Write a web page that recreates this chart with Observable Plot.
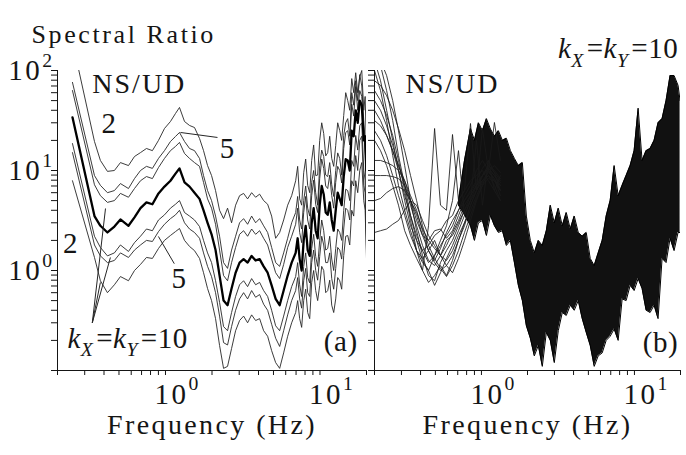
<!DOCTYPE html>
<html><head><meta charset="utf-8">
<script src="https://cdn.jsdelivr.net/npm/d3@7"></script>
<script src="https://cdn.jsdelivr.net/npm/@observablehq/plot@0.6"></script>
<style>
body{margin:0;background:#fff;}
#wrap{position:relative;width:686px;height:455px;overflow:hidden;background:#fff;}
#wrap svg{position:absolute;top:0;}
#wrap svg text, #wrap svg tspan{font-family:"Liberation Serif","Times New Roman",serif !important;}
</style></head><body><div id="wrap"></div>
<script>
// ---------- axis ticks ----------
const xTicks = [0.2,0.3,0.4,0.5,0.6,0.7,0.8,0.9,1,2,3,4,5,6,7,8,9,10,20];
const yTicks = [0.1,0.2,0.3,0.4,0.5,0.6,0.7,0.8,0.9,1,2,3,4,5,6,7,8,9,10,20,30,40,50,60,70,80,90,100];
const xDecades = [1, 10];
const yDecades = [1, 10, 100];

// ---------- panel (a): frequency grid and 7 curves ----------
const freqA = [0.25,0.347,0.379,0.421,0.467,0.511,0.576,0.63,0.689,0.753,0.823,0.901,0.985,1.077,1.161,1.232,1.328,1.431,1.541,1.661,1.763,1.872,1.987,2.109,2.239,2.376,2.522,2.677,2.843,3.017,3.203,3.4,3.61,3.831,4.067,4.317,4.583,4.864,5.164,5.482,5.818,6.177,6.556,6.959,7.387,7.843,8.324,8.836,9.378,9.956,10.57,11.22,11.91,12.64,13.42,14.24,15.12,16.05,17.03,18.09,19.2,20];
const upper2 = [195,19.5,12.6,9.8,10,12,11.2,13.8,15.1,16.6,15.8,20,26.3,30.9,37.2,42.7,30.9,28.2,26.9,20.9,15.8,11.2,8.9,6.3,4.0,3.3,4.2,3.0,4.5,5.6,5.9,5.2,6.0,5.4,5.8,5.0,4.6,3.5,2.1,2.4,3.2,4.5,5.6,7.9,5.2,9.5,7.1,12.6,8.9,20,23.4,15.1,13.2,17.8,25.1,35.5,50,83,95,87,40,15.8];
const upper5 = [76,8.9,7.1,6.0,6.3,7.4,6.6,8.3,10,11,10.5,13.2,15.8,19.5,21.9,24,19.5,16.6,15.8,13.2,8.9,6.3,5.0,3.5,2.2,1.2,1.05,1.6,2.2,3.0,3.3,2.9,3.5,3.0,3.3,2.8,2.4,1.7,1.2,1.1,1.5,2.1,3.0,3.8,3.2,5.0,4.2,7.6,6.0,11.2,13.8,8.7,7.2,10,13.2,22.4,33,60,79,91,31.6,6.3];
const upper10 = [63,7.2,5.6,4.8,5.0,5.9,5.4,6.6,7.9,8.7,8.3,10.7,13.2,15.8,17.4,19.1,14.8,13.2,12,11,7.6,5.2,4.2,2.9,1.6,0.89,0.79,1.2,1.7,2.3,2.5,2.2,2.6,2.3,2.5,2.1,1.8,1.3,0.95,0.83,1.15,1.7,2.2,2.9,2.4,3.8,3.2,5.6,4.6,8.3,10.5,6.6,5.6,7.6,10,16.6,25,46,69,63,25,5.0];
const median = [34,3.5,2.8,2.4,2.75,3.24,2.8,3.4,4.2,4.8,4.6,5.9,6.9,7.9,9.3,10.5,7.6,6.9,6.0,5.2,4.0,3.0,2.3,1.6,0.89,0.5,0.45,0.66,0.95,1.2,1.3,1.2,1.4,1.26,1.3,1.1,0.95,0.71,0.52,0.45,0.63,0.89,1.2,1.5,1.3,2.0,1.6,3.0,2.5,4.5,5.8,3.6,3.2,4.0,5.2,8.7,12.6,25,40,50,20,10];
const lower10 = [18.6,2.2,1.7,1.4,1.5,1.8,1.55,1.9,2.2,2.6,2.5,3.2,3.6,4.2,4.6,5.0,3.8,3.5,3.2,2.75,2.0,1.5,1.2,0.79,0.48,0.275,0.25,0.38,0.55,0.72,0.79,0.69,0.83,0.72,0.76,0.63,0.55,0.4,0.28,0.25,0.35,0.5,0.69,0.87,0.72,1.1,0.85,1.66,1.38,2.0,2.5,1.66,1.3,1.66,2.4,4.0,6.3,12.6,22.4,28,10,2.2];
const lower5 = [15.1,1.8,1.4,1.2,1.26,1.5,1.35,1.6,1.8,2.0,1.95,2.45,2.9,3.3,3.6,4.0,3.0,2.6,2.4,2.1,1.5,1.1,0.87,0.6,0.35,0.19,0.18,0.275,0.4,0.52,0.6,0.52,0.63,0.54,0.575,0.46,0.4,0.29,0.21,0.174,0.25,0.36,0.5,0.63,0.52,0.79,0.6,1.2,1.0,1.38,1.8,1.2,0.83,1.05,1.6,2.6,4.0,7.9,14.1,20,7.1,1.6];
const lower2 = [7.9,1.35,0.79,0.6,0.72,0.87,0.79,1.0,1.15,1.35,1.32,1.66,2.0,2.24,2.45,2.63,2.0,1.74,1.58,1.32,0.95,0.66,0.5,0.33,0.178,0.105,0.11,0.166,0.25,0.316,0.35,0.3,0.36,0.316,0.33,0.25,0.22,0.158,0.12,0.105,0.15,0.22,0.3,0.38,0.33,0.5,0.38,0.76,0.63,0.71,1.0,0.63,0.45,0.52,0.79,1.41,2.24,4.0,7.9,10,5.0,1.32];

// extra in-between readings of the noisy 7-20 Hz part (panel a)
const freqAFine = [7.17,7.61,8.08,8.58,9.10,9.66,10.26,10.89,11.56,12.27,13.02,13.82,14.67,15.58,16.53,17.55,18.64,19.6];
const upper2Fine = [11,4.5,13,6,18,9,30,14,22,11,30,20,60,40,60,60,100,55];
const upper5Fine = [5.5,2.6,7,3.5,10,4.5,16,9,12,5.5,15,9,30,22,45,50,70,20];
const upper10Fine = [4.2,1.9,5.5,2.6,8,3.8,13,7,9,4.2,11,7.5,24,18,35,40,55,14];
const medianFine = [2.1,1.0,2.8,1.4,4.2,2.1,7,3.8,4.8,2.5,6,4.5,13,10,22,30,45,22];
const lower10Fine = [1.2,0.55,1.5,0.75,2.3,1.1,3.2,1.6,2.2,1.0,2.6,2.0,6.5,5,11,16,30,8];
const lower5Fine = [0.85,0.42,1.05,0.55,1.6,0.8,2.2,1.2,1.5,0.65,1.7,1.3,4.2,3.2,7,10,22,6];
const lower2Fine = [0.5,0.27,0.65,0.33,1.0,0.5,1.1,0.6,0.8,0.38,0.85,0.65,2.2,1.8,3.5,6,12,4];

// leader lines of panel (a) (label -> curve)
const leaders = [
  {x1:1.25,y1:24,x2:2.17,y2:21.4},
  {x1:0.90,y1:2.19,x2:1.14,y2:1.17},
  {x1:0.336,y1:0.30,x2:0.409,y2:4.17},
  {x1:0.336,y1:0.30,x2:0.44,y2:1.35},
  {x1:0.336,y1:0.30,x2:0.379,y2:0.76}
];

// ---------- panel (b): individual low-frequency records ----------
const freqB = [0.2,0.219,0.24,0.263,0.287,0.315,0.344,0.377,0.412,0.451,0.494,0.54,0.591,0.647,0.708,0.775,0.848,0.928,1.015,1.111,1.216,1.33];
const rec1 = [126,79,40,20,10,5.0,2.8,2.0,1.58,1.78,2.24,2.5,3.16,3.55,5.0,6.3,7.9,8.9,10,7.9,6.3,5.0];
const rec2 = [141,112,63,31.6,14.1,7.1,3.55,2.0,1.26,1.0,1.41,1.78,2.24,2.8,4.0,5.6,7.1,10,12.6,10,7.9,7.1];
const rec3 = [158,126,89,50,25,11.2,5.0,2.5,1.41,0.89,0.79,1.2,1.58,2.0,2.8,4.0,5.0,6.3,8.9,11.2,10,8.3];
const rec4 = [50,40,28,17.8,11.2,7.1,4.5,2.8,1.78,1.26,1.12,1.41,2.0,2.24,3.0,4.0,5.6,7.1,8.9,10.5,8.9,7.1];
const rec5 = [31.6,28,22.4,15.8,11.2,7.9,5.0,3.16,2.24,2.0,2.5,2.6,2.1,2.5,3.55,5.0,6.3,7.9,10.5,12.6,9.5,6.3];
const rec6 = [8.9,8.9,8.9,8.7,8.3,7.1,5.0,3.55,2.24,1.58,1.26,1.66,2.4,3.16,4.0,5.0,6.0,7.6,8.9,10,8.3,5.6];
const rec7 = [2.4,2.5,2.6,2.9,3.16,4.0,5.0,4.5,3.16,2.24,1.78,1.41,1.26,1.58,2.24,3.0,4.0,5.6,7.6,8.9,7.1,5.0];
const rec8 = [20,15.8,11.2,7.1,4.5,2.5,1.78,1.32,1.0,2.8,26.3,4.5,4.0,22.9,5.0,6.3,29.5,6.3,26.3,10,30.2,12.6];
const rec9 = [63,50,35.5,22.4,12.6,6.3,3.16,1.58,1.0,0.76,0.89,1.12,0.89,1.26,2.0,2.8,4.5,6.3,7.9,8.9,7.9,6.3];
const rec10 = [100,63,31.6,14.1,7.1,4.0,2.5,1.58,1.2,1.0,0.71,0.95,1.32,1.78,2.5,3.55,5.0,7.1,8.9,11.2,9.55,7.9];
const rec11 = [12.6,12.6,12,11.2,10,7.9,5.6,4.0,2.5,1.58,1.2,1.0,1.12,1.41,2.0,3.0,4.5,6.3,8.9,10.5,8.9,7.6];
const rec12 = [5.0,5.25,6.0,6.6,6.9,6.3,5.0,3.8,2.6,2.0,1.66,1.41,1.78,2.4,3.16,4.5,5.6,7.1,7.9,9.55,8.3,6.3];
const rec13 = [25,20,14.1,8.9,5.6,3.55,2.24,1.58,1.32,1.58,2.0,1.41,1.12,0.95,1.32,2.0,3.16,5.0,7.1,10,11.2,9.55];
const rec14 = [79,71,56,40,26.3,15.8,8.9,5.0,2.8,1.78,1.32,1.05,0.87,1.12,1.58,2.4,3.55,5.25,7.1,8.3,7.9,6.3];
const rec15 = [40,31.6,22.4,15.8,10,5.6,3.55,2.24,1.58,1.2,1.41,2.0,2.8,5.0,15.8,3.55,5.0,20,4.5,12.6,6.3,8.9];

// ---------- panel (b): envelope of the dense high-frequency bundle ----------
const freqBand = [0.708,0.775,0.848,0.9,0.956,1.015,1.078,1.145,1.216,1.291,1.371,1.456,1.546,1.642,1.743,1.851,1.966,2.087,2.216,2.354,2.499,2.655,2.819,2.994,3.179,3.376,3.585,3.807,4.042,4.293,4.558,4.841,5.14,5.459,5.797,6.155,6.536,6.941,7.37,7.827,8.311,8.825,9.376,9.954,10.57,11.22,11.92,12.66,13.44,14.27,15.16,16.1,17.1,18.16,19.28,19.87];
const bandHigh = [5.0,12.6,26.3,20,30,25,33,26,22,25,20,21,15.8,13.2,11.2,12,3.5,2.0,1.5,2.0,1.78,2.5,4.5,3.0,4.2,2.8,3.8,2.6,3.5,2.4,2.2,2.4,1.32,1.12,1.5,2.0,3.5,5.0,11.2,5.6,7.1,8.9,11.2,15.8,42,12.6,15.8,16.6,20,30,33,50,89,89,71,50];
const bandLow = [4.5,3.6,2.8,2.0,3.0,3.16,2.24,3.55,2.8,2.4,2.5,1.78,2.0,1.2,0.71,0.5,0.28,0.21,0.14,0.178,0.11,0.24,0.2,0.12,0.25,0.38,0.355,0.45,0.4,0.5,0.33,0.24,0.178,0.11,0.14,0.15,0.2,0.22,0.26,0.2,0.52,0.5,0.71,0.63,0.83,0.66,0.4,0.38,0.45,0.33,1.32,1.2,2.1,1.58,2.4,2.4];

// ---------- build tables ----------
const rows = (freqs, vals, id) => freqs.map((f, i) => ({f, v: vals[i], id}));
const merged = (vals, fine, id) =>
  [...rows(freqA, vals, id), ...rows(freqAFine, fine, id)].sort((a, b) => a.f - b.f);
const thinA = [
  ...merged(upper2, upper2Fine, "u2"), ...merged(upper5, upper5Fine, "u5"), ...merged(upper10, upper10Fine, "u10"),
  ...merged(lower10, lower10Fine, "l10"), ...merged(lower5, lower5Fine, "l5"), ...merged(lower2, lower2Fine, "l2")
];
const boldA = merged(median, medianFine, "m");
const recsB = [rec1,rec2,rec3,rec4,rec5,rec6,rec7,rec8,rec9,rec10,rec11,rec12,rec13,rec14,rec15]
  .flatMap((r, k) => rows(freqB, r, "r" + k));
const band = freqBand.map((f, i) => ({f, lo: bandLow[i], hi: bandHigh[i]}));

const FONT = "Liberation Serif";
const INK = "#151515";
const FS = 29;
const T = (extra) => Object.assign({fontFamily: FONT, fill: INK, fontSize: FS, text: d => d}, extra);

function common(width, ml, mr, marks) {
  return Plot.plot({
    width, height: 455,
    marginLeft: ml, marginRight: mr, marginTop: 70, marginBottom: 85,
    style: {fontFamily: FONT, fontSize: FS + "px", color: INK, background: "transparent", overflow: "visible"},
    x: {type: "log", domain: [0.2, 20], ticks: xTicks, tickFormat: () => "", tickSize: 5, label: null},
    y: {type: "log", domain: [0.1, 100], ticks: yTicks, tickFormat: () => "", tickSize: 6, label: null},
    marks: [
      ...marks,
      Plot.ruleX([0.2], {stroke: INK, strokeWidth: 1}),
      Plot.ruleY([0.1], {stroke: INK, strokeWidth: 1}),
      Plot.text(xDecades, T({x: d => d, frameAnchor: "bottom", dy: 33, dx: -11, textAnchor: "start",
        text: d => "10^" + Math.round(Math.log10(d))})),
      Plot.text(["Frequency (Hz)"], T({frameAnchor: "bottom", dy: 63, fontSize: 28}))
    ]
  });
}

const svgA = common(372, 57, 6, [
  Plot.line(thinA, {x: "f", y: "v", z: "id", stroke: "#262626", strokeWidth: 0.9, clip: true}),
  Plot.line(boldA, {x: "f", y: "v", z: "id", stroke: "#000", strokeWidth: 2.3, clip: true}),
  Plot.link(leaders, {x1: "x1", y1: "y1", x2: "x2", y2: "y2", stroke: "#262626", strokeWidth: 1}),
  Plot.text(yDecades, T({y: d => d, frameAnchor: "left", dx: -3, textAnchor: "end",
    text: d => "10^" + Math.round(Math.log10(d))})),
  Plot.text(["Spectral Ratio"], T({frameAnchor: "top-left", dx: -26, dy: -46, textAnchor: "start", fontSize: 26})),
  Plot.text(["NS/UD"], T({x: 0.336, y: 73.5, textAnchor: "start", fontSize: 28})),
  Plot.text(["2"], T({x: 0.43, y: 29.2})),
  Plot.text(["5"], T({x: 2.5, y: 16.4})),
  Plot.text(["2"], T({x: 0.242, y: 1.85})),
  Plot.text(["5"], T({x: 1.22, y: 0.82})),
  Plot.text(["k_X=k_Y=10"], T({x: 0.232, y: 0.21, textAnchor: "start"})),
  Plot.text(["(a)"], T({x: 17.5, y: 0.193, textAnchor: "end"}))
]);

const svgB = common(320, 8, 6, [
  Plot.areaY(band, {x: "f", y1: "lo", y2: "hi", fill: "#111", clip: true}),
  Plot.line(band, {x: "f", y: "hi", stroke: "#000", strokeWidth: 1, clip: true}),
  Plot.line(band, {x: "f", y: "lo", stroke: "#000", strokeWidth: 1, clip: true}),
  Plot.line(recsB, {x: "f", y: "v", z: "id", stroke: "#1a1a1a", strokeWidth: 0.85, clip: true}),
  Plot.text(["NS/UD"], T({x: 0.319, y: 73.5, textAnchor: "start", fontSize: 28})),
  Plot.text(["(b)"], T({x: 19.3, y: 0.19, textAnchor: "end"})),
  Plot.text(["k_X=k_Y=10"], T({x: 19.3, y: 164, textAnchor: "end"}))
]);

const wrap = document.getElementById("wrap");
svgA.style.left = "0px";
svgB.style.left = "366px";
wrap.appendChild(svgA);
wrap.appendChild(svgB);

// letter spacing to mimic the wide Computer Modern face
const spacing = {"Spectral Ratio": 2.6, "Frequency (Hz)": 2.4, "NS/UD": 2, "(a)": 0.5, "(b)": 0.5};
function rich(svg) {
  svg.setAttribute("font-family", FONT);
  svg.querySelectorAll("text").forEach(t => {
    t.setAttribute("font-family", FONT);
    if (t.querySelector("tspan")) return;
    const s = t.textContent;
    if (s in spacing) { t.setAttribute("letter-spacing", spacing[s]); return; }
    if (!/[_^]/.test(s)) return;
    const fs = parseFloat(getComputedStyle(t).fontSize) || FS;
    const math = s.includes("_");
    t.setAttribute("letter-spacing", math ? 0.5 : 2.5);
    const pieces = [];
    for (let i = 0; i < s.length; i++) {
      const c = s[i];
      if (c === "_" || c === "^") {
        const n = s[i + 1];
        pieces.push({t: n, sub: c === "_", sup: c === "^", it: math && /[A-Za-z]/.test(n)});
        i++;
      } else pieces.push({t: c, it: math && /[A-Za-z]/.test(c)});
    }
    t.textContent = "";
    let cur = 0;
    for (const p of pieces) {
      const target = p.sub ? 0.3 * fs : p.sup ? -0.45 * fs : 0;
      const ts = document.createElementNS("http://www.w3.org/2000/svg", "tspan");
      if (target !== cur) ts.setAttribute("dy", (target - cur).toFixed(2));
      cur = target;
      if (p.sub || p.sup) ts.setAttribute("font-size", (0.68 * fs).toFixed(1));
      if (p.it) ts.setAttribute("font-style", "italic");
      if (p.t === "=") ts.setAttribute("dx", (0.1 * fs).toFixed(1));
      ts.textContent = p.t;
      t.appendChild(ts);
    }
  });
}
rich(svgA);
rich(svgB);
</script></body></html>
